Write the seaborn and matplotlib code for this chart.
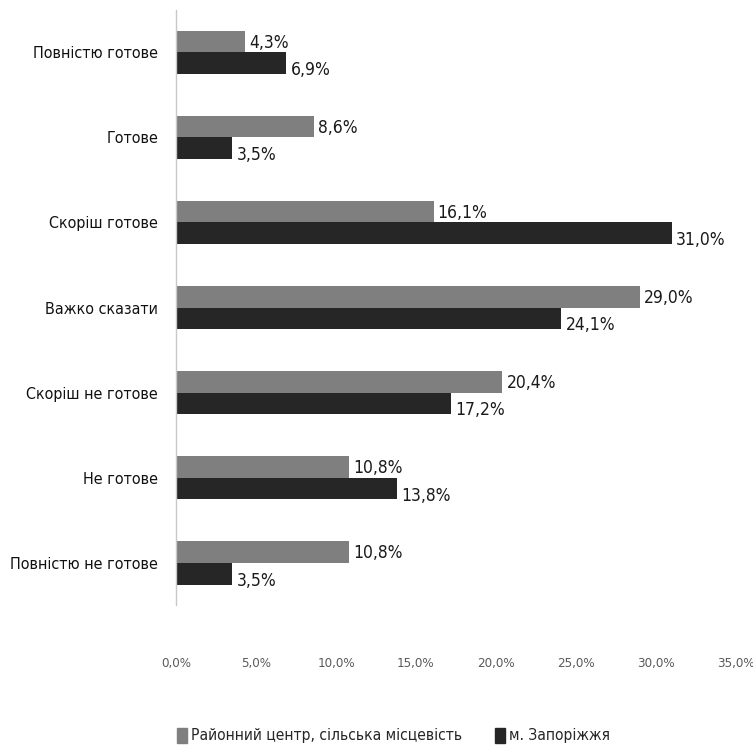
import pandas as pd
import matplotlib.pyplot as plt
import seaborn as sns
from matplotlib.patches import Patch

categories = ['Повністю готове', 'Готове', 'Скоріш готове', 'Важко сказати',
              'Скоріш не готове', 'Не готове', 'Повністю не готове']
rural = [4.3, 8.6, 16.1, 29.0, 20.4, 10.8, 10.8]
city = [6.9, 3.5, 31.0, 24.1, 17.2, 13.8, 3.5]
series_names = ['Районний центр, сільська місцевість', 'м. Запоріжжя']
x_ticks = [0, 5, 10, 15, 20, 25, 30, 35]

GRAY = '#7f7f7f'
DARK = '#262626'

sns.set_style('white')
plt.rcParams['font.family'] = ['DejaVu Sans']
plt.rcParams['font.stretch'] = 'condensed'

df = pd.DataFrame({
    'cat': categories * 2,
    'val': rural + city,
    'group': [series_names[0]] * len(categories) + [series_names[1]] * len(categories),
})

fig = plt.figure(figsize=(7.53, 7.52), dpi=100)
ax = fig.add_axes([0.234, 0.195, 0.743, 0.792])

sns.barplot(data=df, y='cat', x='val', hue='group', palette=[GRAY, DARK],
            width=0.51, orient='h', ax=ax, legend=False, saturation=1, linewidth=0)

# value labels; the dark series labels sit a bit lower, as in the original
for i, (cont, vals) in enumerate(zip(ax.containers, [rural, city])):
    labels = [f'{v:.1f}%'.replace('.', ',') for v in vals]
    texts = ax.bar_label(cont, labels=labels, padding=3, fontsize=12.5, color='#1a1a1a')
    for t in texts:
        t.xyann = (t.xyann[0], t.xyann[1] - (5 if i == 1 else 1))

ax.set_xlim(0, 35)
ax.set_ylim(6.5, -0.5)
ax.set_xticks(x_ticks)
ax.set_xticklabels([f'{t:.1f}%'.replace('.', ',') for t in x_ticks],
                   fontsize=9.5, color='#595959')
ax.tick_params(axis='x', length=0, pad=37)
ax.tick_params(axis='y', length=0, pad=13, labelsize=11.5, labelcolor='#111111')
ax.set_xlabel('')
ax.set_ylabel('')
for s in ['top', 'right', 'bottom']:
    ax.spines[s].set_visible(False)
ax.spines['left'].set_color('#c8c8c8')
ax.spines['left'].set_linewidth(1)

handles = [Patch(color=GRAY, label=series_names[0]), Patch(color=DARK, label=series_names[1])]
fig.legend(handles=handles, loc='center', bbox_to_anchor=(0.523, 0.022), ncol=2,
           frameon=False, fontsize=11.2, handlelength=0.6, handleheight=1.1,
           handletextpad=0.3, columnspacing=2.1)

plt.savefig('out.png', dpi=100)
plt.close()
